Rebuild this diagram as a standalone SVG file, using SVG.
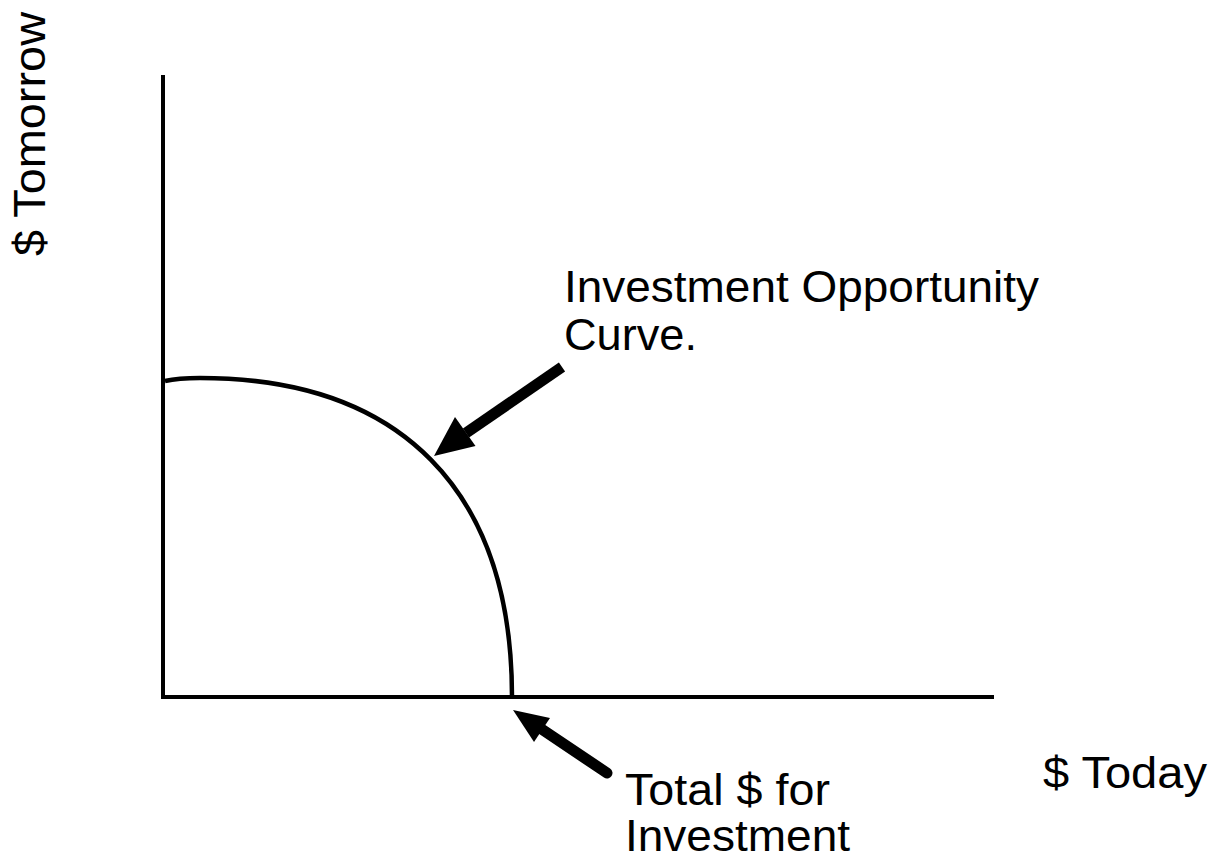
<svg xmlns="http://www.w3.org/2000/svg" width="1217" height="860" viewBox="0 0 1217 860">
<style>
.t{font-family:"Liberation Sans",Arial,sans-serif;font-size:45px;fill:#000}
.ax{stroke:#000;stroke-width:4;fill:none}
.cv{stroke:#000;stroke-width:4.5;fill:none}
.shaft{stroke:#000;stroke-width:11;fill:none}
.head{fill:#000}
</style>
<rect width="1217" height="860" fill="#fff"/>
<g id="axes">
<line class="ax" x1="163" y1="75" x2="163" y2="699"/>
<line class="ax" x1="161" y1="697" x2="994" y2="697"/>
</g>
<g id="curve">
<path class="cv" d="M165,381 Q178,378 200,378 C400,378 512,490 512,697"/>
</g>
<g id="connectors">
<line class="shaft" x1="562" y1="367" x2="466" y2="433" stroke-linecap="butt"/>
<polygon class="head" points="434,456 475.5,446 455,417"/>
<line class="shaft" x1="607" y1="773" x2="540" y2="728" stroke-linecap="round"/>
<polygon class="head" points="513,710 550,718 534,742"/>
</g>
<g id="labels">
<text class="t" x="564" y="302" textLength="475" lengthAdjust="spacingAndGlyphs">Investment Opportunity</text>
<text class="t" x="564" y="350" textLength="133" lengthAdjust="spacingAndGlyphs">Curve.</text>
<text class="t" x="1043" y="788" textLength="164" lengthAdjust="spacingAndGlyphs">$ Today</text>
<text class="t" x="625" y="805" textLength="205" lengthAdjust="spacingAndGlyphs">Total $ for</text>
<text class="t" x="625" y="851" textLength="225" lengthAdjust="spacingAndGlyphs">Investment</text>
<text class="t" transform="translate(45,256) rotate(-90)" textLength="244" lengthAdjust="spacingAndGlyphs">$ Tomorrow</text>
</g>
</svg>
